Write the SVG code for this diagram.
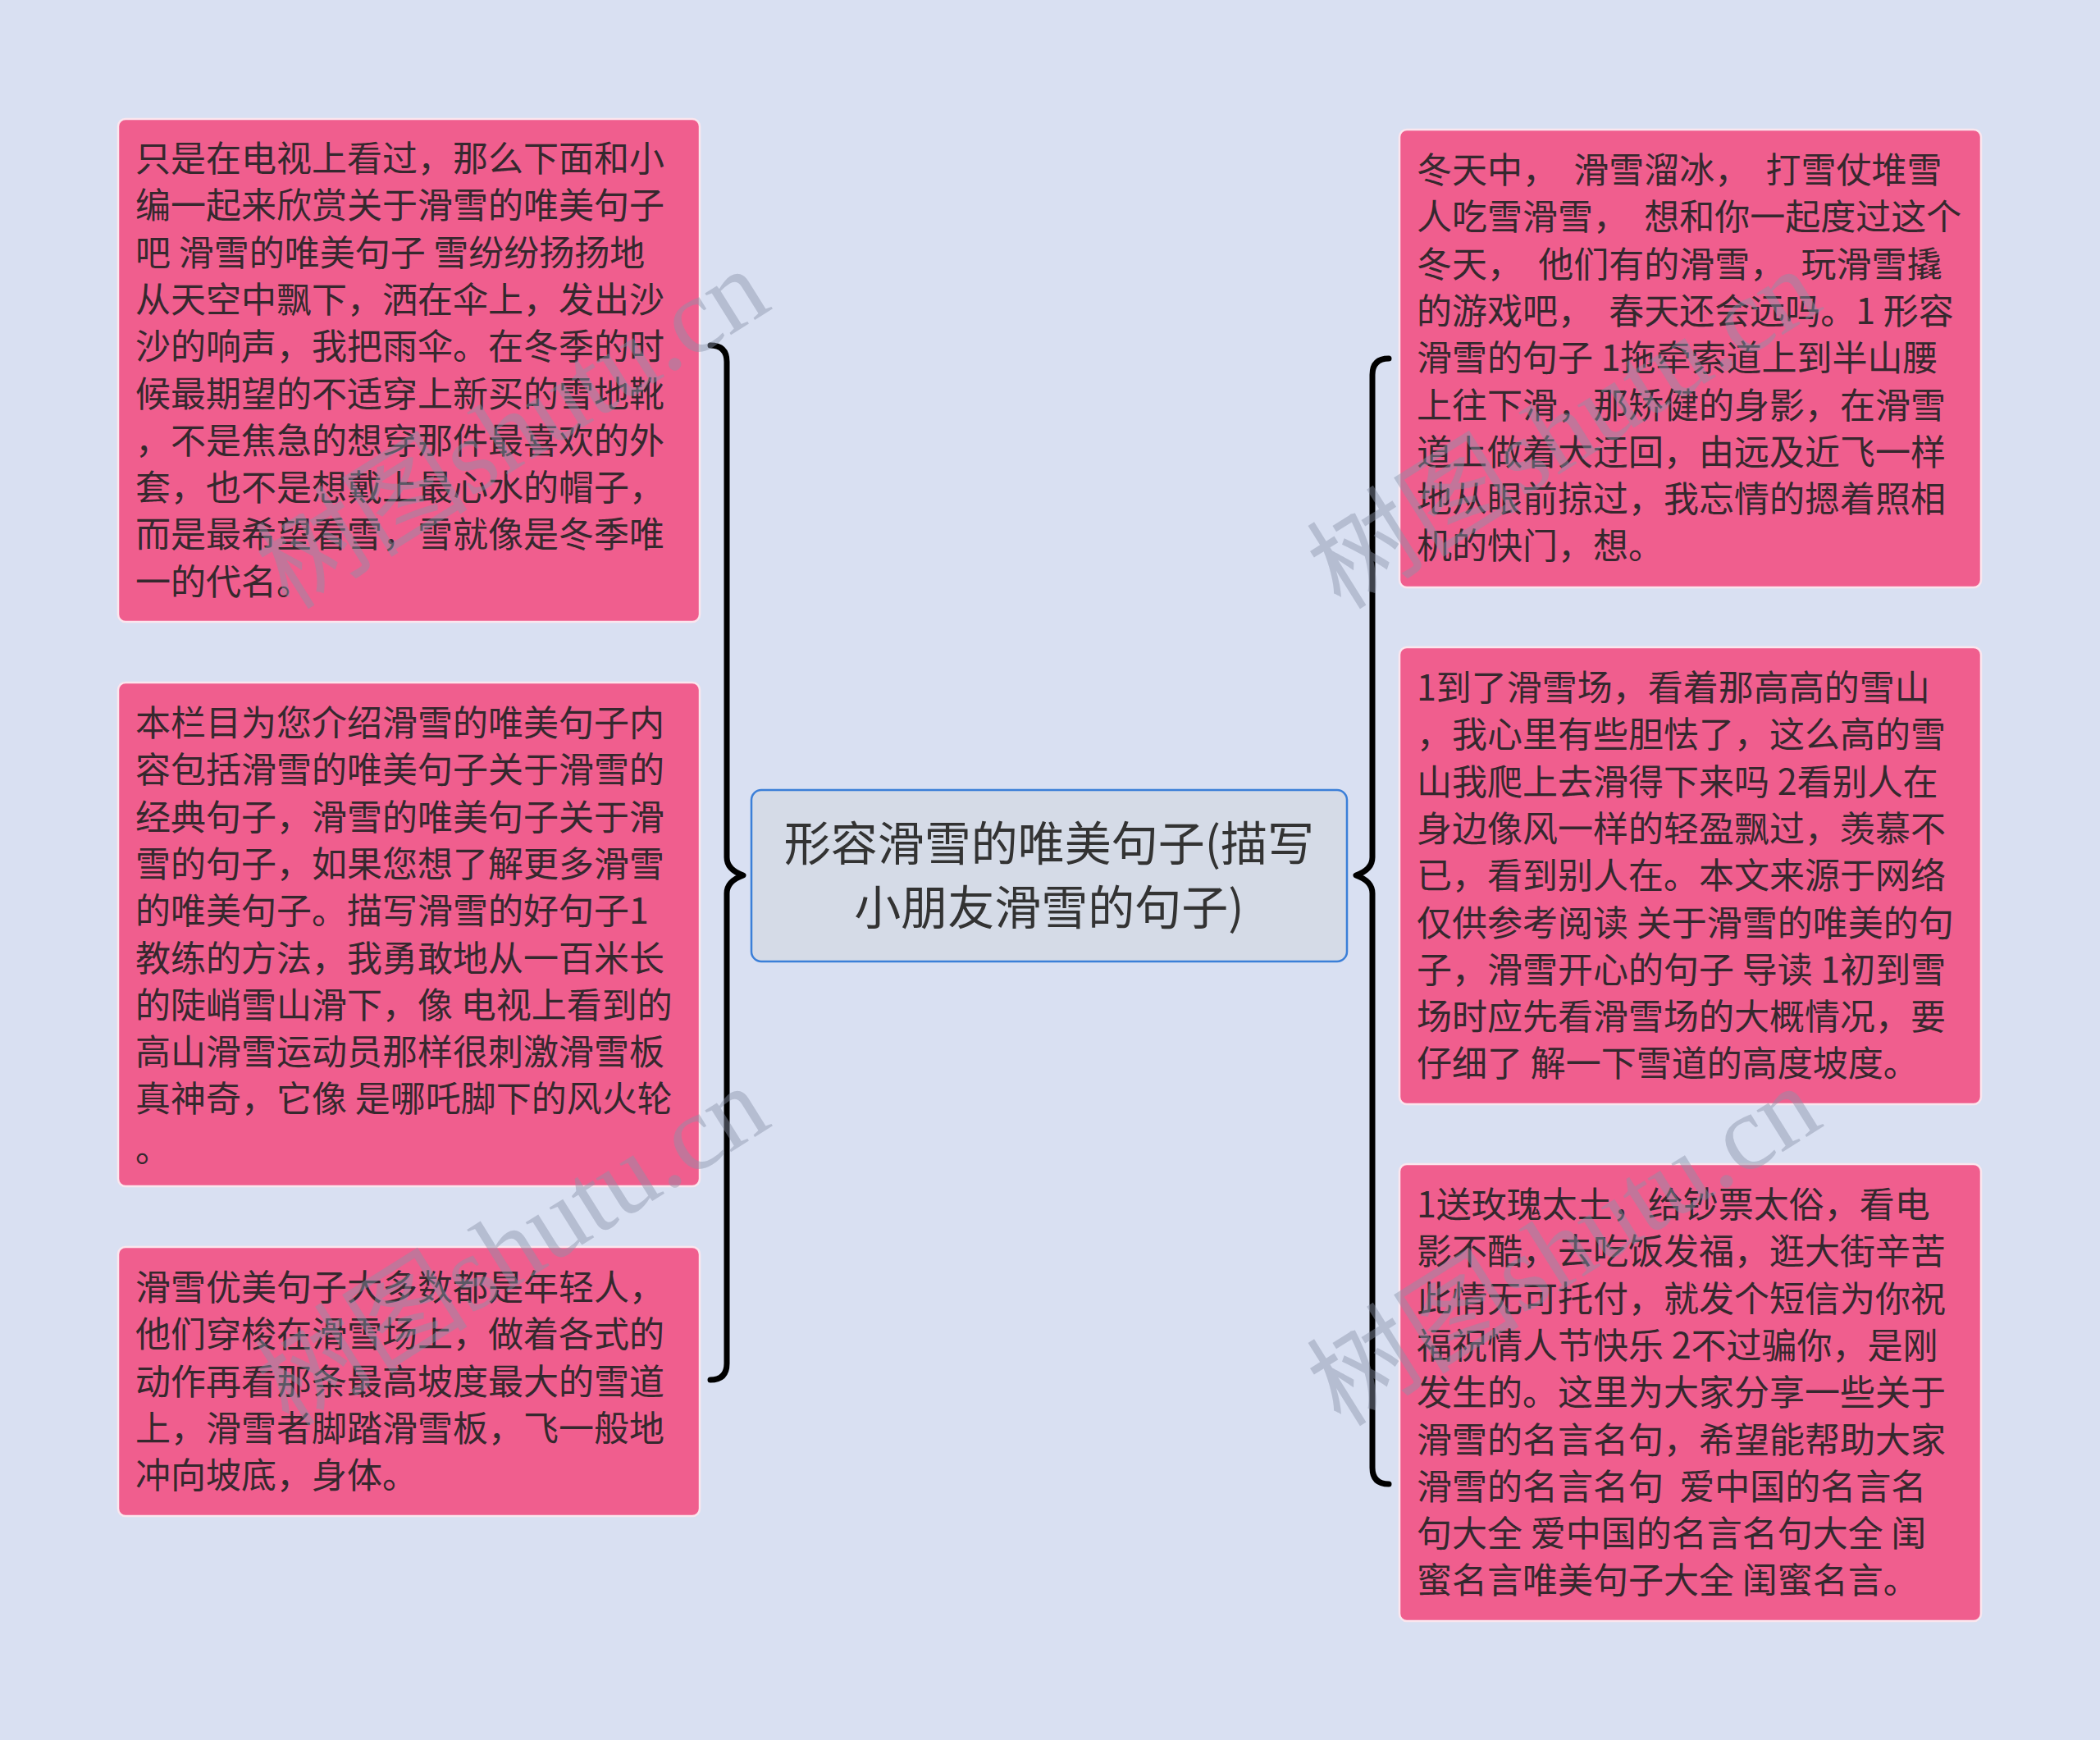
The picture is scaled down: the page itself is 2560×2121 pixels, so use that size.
<svg xmlns="http://www.w3.org/2000/svg" width="2560" height="2121" viewBox="0 0 2560 2121">
<style>
.bg{fill:#d9e0f2}
.leaf{fill:#f05e8e;stroke:#fbe6ee;stroke-width:2.5}
.root{fill:#d5dbe7;stroke:#3b7fd8;stroke-width:2.5}
.t{font-family:"Noto Sans CJK SC","Noto Sans",sans-serif;font-size:43px;fill:#36282e}
.rt{font-family:"Noto Sans CJK SC","Noto Sans",sans-serif;font-size:57px;fill:#333333;text-anchor:middle}
.conn{fill:none;stroke:#000000;stroke-width:7;stroke-linecap:round;stroke-linejoin:round}
.wm{font-family:"Liberation Serif","Noto Sans CJK SC",serif;font-size:130px;fill:#8a93a8;fill-opacity:0.45;text-anchor:middle}
</style>
<rect class="bg" x="0" y="0" width="2560" height="2121"/>
<g id="connectors">
<path class="conn" d="M 866 421 Q 886 421 886 441 L 886 1045 Q 886 1060 906 1067 Q 886 1074 886 1089 L 886 1662 Q 886 1682 866 1682"/>
<path class="conn" d="M 1693 437 Q 1673 437 1673 457 L 1673 1045 Q 1673 1060 1653 1067 Q 1673 1074 1673 1089 L 1673 1789 Q 1673 1809 1693 1809"/>
</g>
<g id="root">
<rect class="root" x="916" y="963" width="726" height="209" rx="12"/>
<text class="rt" x="1279" y="1049">形容滑雪的唯美句子(描写</text>
<text class="rt" x="1279" y="1127">小朋友滑雪的句子)</text>
</g>
<g id="left1">
<rect class="leaf" x="144" y="145" width="709" height="613" rx="9"/>
<text class="t" x="165" y="209">只是在电视上看过，那么下面和小</text>
<text class="t" x="165" y="266.3">编一起来欣赏关于滑雪的唯美句子</text>
<text class="t" x="165" y="323.6">吧 滑雪的唯美句子 雪纷纷扬扬地</text>
<text class="t" x="165" y="380.9">从天空中飘下，洒在伞上，发出沙</text>
<text class="t" x="165" y="438.2">沙的响声，我把雨伞。在冬季的时</text>
<text class="t" x="165" y="495.5">候最期望的不适穿上新买的雪地靴</text>
<text class="t" x="165" y="552.8">，不是焦急的想穿那件最喜欢的外</text>
<text class="t" x="165" y="610.1">套，也不是想戴上最心水的帽子，</text>
<text class="t" x="165" y="667.4">而是最希望看雪，雪就像是冬季唯</text>
<text class="t" x="165" y="724.7">一的代名。</text>
</g>
<g id="left2">
<rect class="leaf" x="144" y="832" width="709" height="614" rx="9"/>
<text class="t" x="165" y="897">本栏目为您介绍滑雪的唯美句子内</text>
<text class="t" x="165" y="954.3">容包括滑雪的唯美句子关于滑雪的</text>
<text class="t" x="165" y="1011.6">经典句子，滑雪的唯美句子关于滑</text>
<text class="t" x="165" y="1068.9">雪的句子，如果您想了解更多滑雪</text>
<text class="t" x="165" y="1126.2">的唯美句子。描写滑雪的好句子1</text>
<text class="t" x="165" y="1183.5">教练的方法，我勇敢地从一百米长</text>
<text class="t" x="165" y="1240.8">的陡峭雪山滑下，像 电视上看到的</text>
<text class="t" x="165" y="1298.1">高山滑雪运动员那样很刺激滑雪板</text>
<text class="t" x="165" y="1355.4">真神奇，它像 是哪吒脚下的风火轮</text>
<text class="t" x="165" y="1416">。</text>
</g>
<g id="left3">
<rect class="leaf" x="144" y="1520" width="709" height="328" rx="9"/>
<text class="t" x="165" y="1585">滑雪优美句子大多数都是年轻人，</text>
<text class="t" x="165" y="1642.3">他们穿梭在滑雪场上，做着各式的</text>
<text class="t" x="165" y="1699.6">动作再看那条最高坡度最大的雪道</text>
<text class="t" x="165" y="1756.9">上，滑雪者脚踏滑雪板，飞一般地</text>
<text class="t" x="165" y="1814.2">冲向坡底，身体。</text>
</g>
<g id="right1">
<rect class="leaf" x="1706" y="158" width="709" height="558" rx="9"/>
<text class="t" x="1727" y="223" xml:space="preserve">冬天中，  滑雪溜冰，  打雪仗堆雪</text>
<text class="t" x="1727" y="280.3" xml:space="preserve">人吃雪滑雪，  想和你一起度过这个</text>
<text class="t" x="1727" y="337.6" xml:space="preserve">冬天，  他们有的滑雪，  玩滑雪撬</text>
<text class="t" x="1727" y="394.9" xml:space="preserve">的游戏吧，  春天还会远吗。1 形容</text>
<text class="t" x="1727" y="452.2">滑雪的句子 1拖牵索道上到半山腰</text>
<text class="t" x="1727" y="509.5">上往下滑，那矫健的身影，在滑雪</text>
<text class="t" x="1727" y="566.8">道上做着大迂回，由远及近飞一样</text>
<text class="t" x="1727" y="624.1">地从眼前掠过，我忘情的摁着照相</text>
<text class="t" x="1727" y="681.4">机的快门，想。</text>
</g>
<g id="right2">
<rect class="leaf" x="1706" y="789" width="709" height="557" rx="9"/>
<text class="t" x="1727" y="854">1到了滑雪场，看着那高高的雪山</text>
<text class="t" x="1727" y="911.3">，我心里有些胆怯了，这么高的雪</text>
<text class="t" x="1727" y="968.6">山我爬上去滑得下来吗 2看别人在</text>
<text class="t" x="1727" y="1025.9">身边像风一样的轻盈飘过，羡慕不</text>
<text class="t" x="1727" y="1083.2">已，看到别人在。本文来源于网络</text>
<text class="t" x="1727" y="1140.5">仅供参考阅读 关于滑雪的唯美的句</text>
<text class="t" x="1727" y="1197.8">子，滑雪开心的句子 导读 1初到雪</text>
<text class="t" x="1727" y="1255.1">场时应先看滑雪场的大概情况，要</text>
<text class="t" x="1727" y="1312.4">仔细了 解一下雪道的高度坡度。</text>
</g>
<g id="right3">
<rect class="leaf" x="1706" y="1419" width="709" height="557" rx="9"/>
<text class="t" x="1727" y="1484">1送玫瑰太土，给钞票太俗，看电</text>
<text class="t" x="1727" y="1541.3">影不酷，去吃饭发福，逛大街辛苦</text>
<text class="t" x="1727" y="1598.6">此情无可托付，就发个短信为你祝</text>
<text class="t" x="1727" y="1655.9">福祝情人节快乐 2不过骗你，是刚</text>
<text class="t" x="1727" y="1713.2">发生的。这里为大家分享一些关于</text>
<text class="t" x="1727" y="1770.5">滑雪的名言名句，希望能帮助大家</text>
<text class="t" x="1727" y="1827.8" xml:space="preserve">滑雪的名言名句  爱中国的名言名</text>
<text class="t" x="1727" y="1885.1">句大全 爱中国的名言名句大全 闺</text>
<text class="t" x="1727" y="1942.4">蜜名言唯美句子大全 闺蜜名言。</text>
</g>
<g id="watermarks">
<text class="wm" transform="translate(648 560) rotate(-32)">树图shutu.cn</text>
<text class="wm" transform="translate(648 1556) rotate(-32)">树图shutu.cn</text>
<text class="wm" transform="translate(1930 560) rotate(-32)">树图shutu.cn</text>
<text class="wm" transform="translate(1930 1556) rotate(-32)">树图shutu.cn</text>
</g>
</svg>
